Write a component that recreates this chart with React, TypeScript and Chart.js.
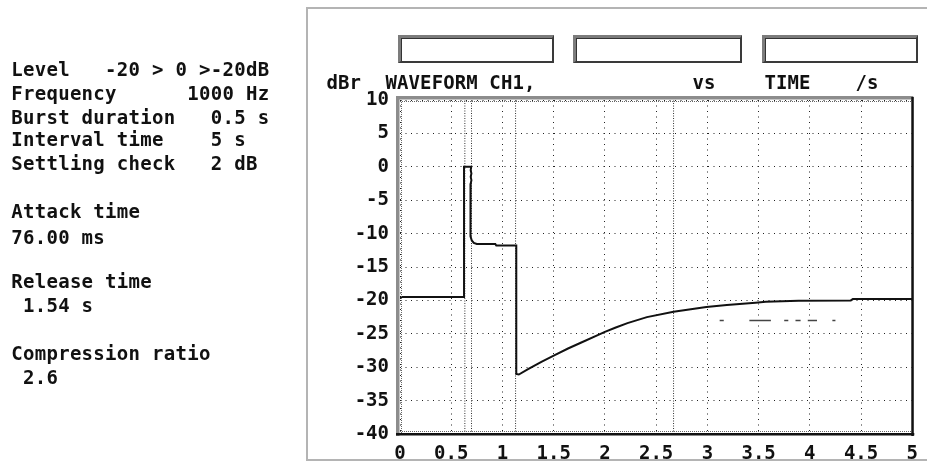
import React, { useEffect, useRef } from 'react';
import { Chart, registerables } from 'chart.js';
Chart.register(...registerables);

// ---- data ----
const traceTime = [
  0, 0.625, 0.625, 0.695, 0.69, 0.697, 0.69, 0.697, 0.69, 0.688, 0.688, 0.7, 0.72, 0.75, 0.93, 0.94,
  1.135, 1.135, 1.16, 1.25, 1.38, 1.51, 1.64, 1.77, 1.93, 2.0, 2.1, 2.22, 2.41, 2.67, 2.99, 3.19, 3.47,
  3.57, 3.89, 4.4, 4.42, 5.0,
];
const traceLevel = [
  -19.5, -19.5, 0, 0, -0.5, -1.0, -1.5, -2.0, -2.5, -3.0, -10.4, -11.0, -11.4, -11.55, -11.55, -11.8,
  -11.8, -31.0, -31.1, -30.3, -29.2, -28.2, -27.2, -26.3, -25.2, -24.7, -24.1, -23.4, -22.5, -21.7, -21.0, -20.7, -20.35,
  -20.2, -20.05, -20.0, -19.8, -19.8,
];
const cursorTimes = [0.633, 0.698, 1.128, 2.67];
const refStart = [3.12, 3.41, 3.75, 3.86, 3.98, 4.22];
const refEnd = [3.16, 3.62, 3.79, 3.91, 4.07, 4.25];
const refLevel = -23;
const xTickLabels = ['0', '0.5', '1', '1.5', '2', '2.5', '3', '3.5', '4', '4.5', '5'];
const yTickLabels = ['-40', '-35', '-30', '-25', '-20', '-15', '-10', '-5', '0', '5', '10'];
const settingsLines = [
  'Level   -20 > 0 >-20dB',
  'Frequency      1000 Hz',
  'Burst duration   0.5 s',
  'Interval time    5 s',
  'Settling check   2 dB',
];
const resultLines = ['Attack time', '76.00 ms', 'Release time', ' 1.54 s', 'Compression ratio', ' 2.6'];
const headerTexts = ['dBr', 'WAVEFORM CH1,', 'vs', 'TIME', '/s'];

// ---- layout (not data) ----
const settingsTops = [62.7, 86, 110, 132.7, 156];
const resultTops = [204, 230, 274, 298.3, 346, 370];
const headerLefts = [328, 387, 694, 766, 857];
const boxes = [
  { left: 398, width: 156 },
  { left: 573, width: 169 },
  { left: 762, width: 156 },
];

const MONO = "'DejaVu Sans Mono', 'Liberation Mono', monospace";

const framePlugin = {
  id: 'instrumentFrame',
  afterDraw(chart: any) {
    const { ctx, chartArea: a } = chart;
    ctx.save();
    ctx.fillStyle = '#8c8c8c';
    ctx.fillRect(a.left - 4, a.top - 4, a.right - a.left + 5, 3.5);
    ctx.fillRect(a.left - 4, a.top - 4, 3.5, a.bottom - a.top + 6);
    ctx.fillStyle = '#111';
    ctx.fillRect(a.right - 1, a.top - 3, 2.5, a.bottom - a.top + 5);
    ctx.fillRect(a.left - 4, a.bottom - 1, a.right - a.left + 6, 2.5);
    ctx.strokeStyle = '#666';
    ctx.lineWidth = 1;
    ctx.setLineDash([1, 1]);
    ctx.beginPath();
    ctx.moveTo(a.left, a.top + 1.5);
    ctx.lineTo(a.right - 1, a.top + 1.5);
    ctx.moveTo(a.left + 1.5, a.top);
    ctx.lineTo(a.left + 1.5, a.bottom - 1);
    ctx.moveTo(a.left, a.bottom - 2.5);
    ctx.lineTo(a.right - 1, a.bottom - 2.5);
    ctx.stroke();
    ctx.restore();
  },
};

export default function App() {
  const canvasRef = useRef<HTMLCanvasElement | null>(null);

  useEffect(() => {
    const canvas = canvasRef.current;
    if (!canvas) return;

    const traceData = traceTime.map((t, i) => ({ x: t, y: traceLevel[i] }));
    const refData: any[] = [];
    refStart.forEach((s, i) => {
      refData.push({ x: s, y: refLevel });
      refData.push({ x: refEnd[i], y: refLevel });
      refData.push({ x: refEnd[i], y: null });
    });
    const cursorSets = cursorTimes.map((t) => ({
      data: [
        { x: t, y: -40 },
        { x: t, y: 10 },
      ],
      borderColor: '#333',
      borderWidth: 1,
      borderDash: [1, 1.5],
      pointRadius: 0,
      tension: 0,
    }));

    const tickFont = { family: MONO, size: 19, weight: 'bold' as const };

    const chart = new Chart(canvas, {
      type: 'line',
      data: {
        datasets: [
          {
            data: traceData,
            borderColor: '#111',
            borderWidth: 2,
            pointRadius: 0,
            tension: 0,
          },
          {
            data: refData,
            borderColor: '#444',
            borderWidth: 1.5,
            pointRadius: 0,
            tension: 0,
            spanGaps: false,
          },
          ...cursorSets,
        ] as any,
      },
      options: {
        animation: false,
        responsive: false,
        events: [],
        layout: { padding: { left: 300, right: 9, top: 100, bottom: 0 } },
        plugins: { legend: { display: false }, tooltip: { enabled: false } },
        scales: {
          x: {
            type: 'linear',
            min: 0,
            max: 5,
            afterBuildTicks: (s: any) => {
              s.ticks = xTickLabels.map((l) => ({ value: parseFloat(l) }));
            },
            afterFit: (s: any) => {
              s.height = 30;
            },
            ticks: {
              callback: (_v: any, i: number) => xTickLabels[i],
              color: '#111',
              font: tickFont,
              padding: 9,
              autoSkip: false,
              maxRotation: 0,
            },
            grid: { color: '#222', lineWidth: 1, drawTicks: false },
            border: { display: false, dash: [1, 4.5] },
          },
          y: {
            type: 'linear',
            min: -40,
            max: 10,
            afterBuildTicks: (s: any) => {
              s.ticks = yTickLabels.map((l) => ({ value: parseFloat(l) }));
            },
            afterFit: (s: any) => {
              s.width = 100;
            },
            ticks: {
              callback: (_v: any, i: number) => yTickLabels[i],
              color: '#111',
              font: tickFont,
              padding: 11,
            },
            grid: { color: '#222', lineWidth: 1, drawTicks: false },
            border: { display: false, dash: [1, 4.5] },
          },
        },
      } as any,
      plugins: [framePlugin],
    });
    return () => chart.destroy();
  }, []);

  const textStyle = (left: number, capTop: number): React.CSSProperties => ({
    position: 'absolute',
    left: left - 1.5,
    top: capTop - 3.5,
    fontFamily: MONO,
    fontWeight: 'bold',
    fontSize: 19,
    lineHeight: '21px',
    letterSpacing: '0.3px',
    whiteSpace: 'pre',
    color: '#111',
  });

  return (
    <div
      style={{
        position: 'fixed',
        left: 0,
        top: 0,
        width: 927,
        height: 464,
        overflow: 'hidden',
        background: '#fff',
      }}
    >
      <div
        style={{
          position: 'absolute',
          left: 306,
          top: 7,
          width: 700,
          height: 454,
          boxSizing: 'border-box',
          border: '2px solid #b4b4b4',
        }}
      />
      <canvas
        ref={canvasRef}
        width={927}
        height={464}
        style={{ position: 'absolute', left: 0, top: 0, display: 'block' }}
      />
      {boxes.map((b, i) => (
        <div
          key={'b' + i}
          style={{
            position: 'absolute',
            left: b.left,
            top: 35,
            width: b.width,
            height: 28,
            boxSizing: 'border-box',
            borderTop: '3px solid #7c7c7c',
            borderLeft: '3px solid #7c7c7c',
            borderRight: '2px solid #3a3a3a',
            borderBottom: '2px solid #3a3a3a',
            boxShadow: 'inset 1px 1px 0 #333',
          }}
        />
      ))}
      {headerTexts.map((t, i) => (
        <div key={'h' + i} style={{ ...textStyle(headerLefts[i], 75), letterSpacing: '0.1px' }}>
          {t}
        </div>
      ))}
      {settingsLines.map((t, i) => (
        <div key={'s' + i} style={textStyle(12.7, settingsTops[i])}>
          {t}
        </div>
      ))}
      {resultLines.map((t, i) => (
        <div key={'r' + i} style={textStyle(12.7, resultTops[i])}>
          {t}
        </div>
      ))}
    </div>
  );
}
